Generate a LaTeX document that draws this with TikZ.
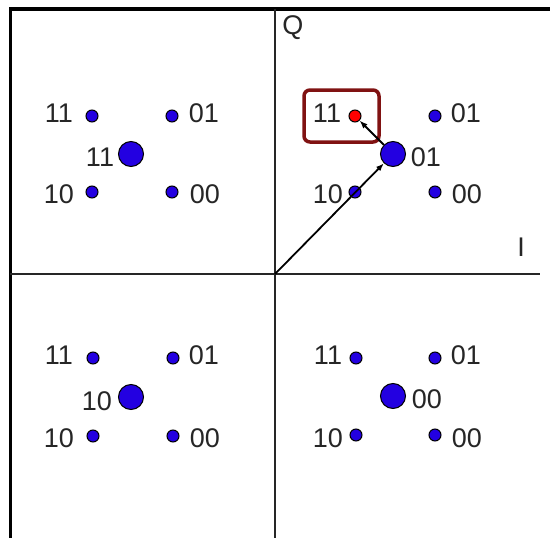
\documentclass[tikz,border=0pt]{standalone}
\usepackage{fontspec}
\setmainfont{Liberation Sans}
\usetikzlibrary{arrows.meta}
\definecolor{dotblue}{RGB}{35,0,225}
\definecolor{boxred}{RGB}{128,18,18}
\tikzset{
  sdot/.style={circle,draw=black,line width=1pt,fill=dotblue,inner sep=0pt,minimum size=12pt},
  bdot/.style={circle,draw=black,line width=1pt,fill=dotblue,inner sep=0pt,minimum size=25pt},
  rdot/.style={circle,draw=black,line width=1pt,fill=red,inner sep=0pt,minimum size=12pt},
  lbl/.style={inner sep=0pt,font=\fontsize{27}{30}\selectfont,anchor=center,black!85},
  frame/.style={line width=3.6pt,black},
  axis/.style={line width=1.5pt,black!85},
  vec/.style={line width=1.8pt,-{Latex[length=8pt,width=6pt]}}
}
\begin{document}
\begin{tikzpicture}[x=1pt,y=-1pt]
\useasboundingbox (0,0) rectangle (550,538);
% frame
\draw[frame] (550,9) -- (10.5,9) -- (10.5,538);
% axes
\draw[axis] (275,9) -- (275,538);
\draw[axis] (10,274) -- (540,274);
\coordinate (O) at (275,274);
\node[lbl] (Q) at (293,28) {Q};
\node[lbl] (I) at (521,247) {I};
% top-left quadrant
\node[sdot] (a11) at (92,116) {};
\node[sdot] (a01) at (172,116) {};
\node[sdot] (a10) at (92,192) {};
\node[sdot] (a00) at (172,192) {};
\node[bdot] (aB) at (131,154) {};
\node[lbl] (la11) at (59,113) {11};
\node[lbl] (la01) at (204,113) {01};
\node[lbl] (la10) at (59,194) {10};
\node[lbl] (la00) at (205,194) {00};
\node[lbl] (laB) at (100,157) {11};
% top-right quadrant
\node[rdot] (b11) at (355,116) {};
\node[sdot] (b01) at (435,116) {};
\node[sdot] (b10) at (355,192) {};
\node[sdot] (b00) at (435,192) {};
\node[bdot] (bB) at (393,154) {};
\node[lbl] (lb11) at (327,113) {11};
\node[lbl] (lb01) at (466,113) {01};
\node[lbl] (lb10) at (328,194) {10};
\node[lbl] (lb00) at (467,194) {00};
\node[lbl] (lbB) at (426,157) {01};
\draw[line width=3.5pt,boxred,rounded corners=6pt] (304,90) rectangle (379,142);
% bottom-left quadrant
\node[sdot] (c11) at (93,358) {};
\node[sdot] (c01) at (173,358) {};
\node[sdot] (c10) at (93,436) {};
\node[sdot] (c00) at (173,436) {};
\node[bdot] (cB) at (131,397) {};
\node[lbl] (lc11) at (59,355) {11};
\node[lbl] (lc01) at (204,355) {01};
\node[lbl] (lc10) at (59,438) {10};
\node[lbl] (lc00) at (205,438) {00};
\node[lbl] (lcB) at (97,401) {10};
% bottom-right quadrant
\node[sdot] (d11) at (356,358) {};
\node[sdot] (d01) at (435,358) {};
\node[sdot] (d10) at (356,435) {};
\node[sdot] (d00) at (435,435) {};
\node[bdot] (dB) at (393,396) {};
\node[lbl] (ld11) at (328,355) {11};
\node[lbl] (ld01) at (466,355) {01};
\node[lbl] (ld10) at (328,438) {10};
\node[lbl] (ld00) at (467,438) {00};
\node[lbl] (ldB) at (427,399) {00};
% vectors
\draw[vec] (O) -- (bB);
\draw[vec] (bB) -- (b11);
\end{tikzpicture}
\end{document}
